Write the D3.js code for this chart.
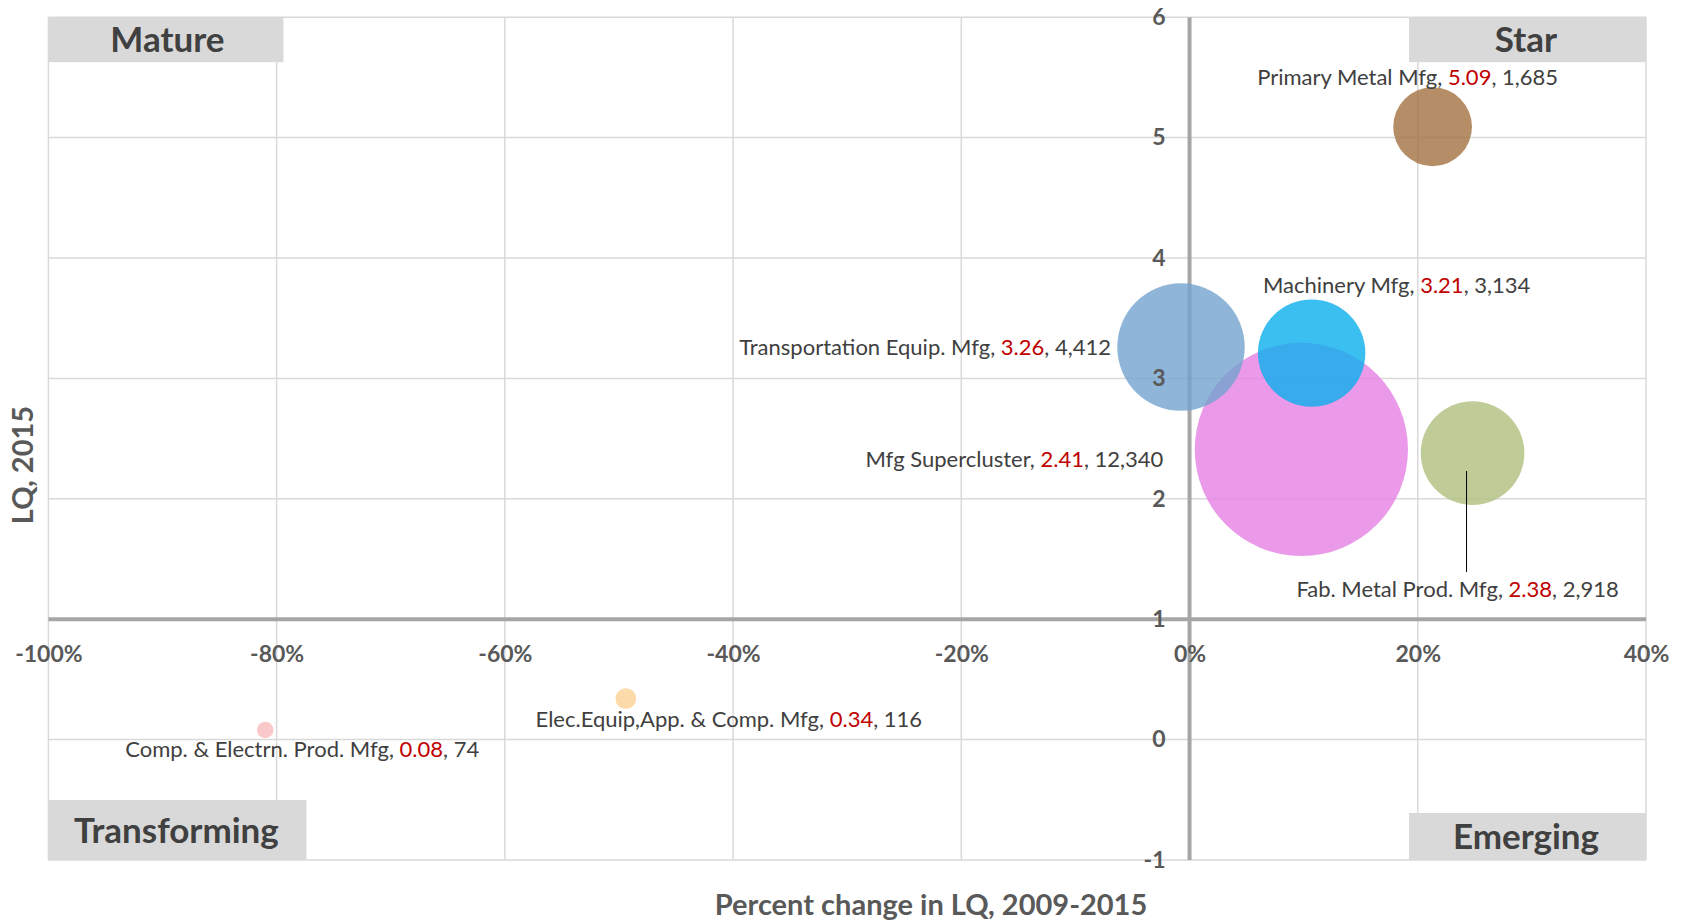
<!DOCTYPE html>
<html>
<head>
<meta charset="utf-8">
<script src="https://cdn.jsdelivr.net/npm/d3@7"></script>
<style>
  html, body { margin: 0; padding: 0; background: #fff; }
  svg { display: block; font-family: Lato, "Open Sans", sans-serif; }
</style>
</head>
<body>
<svg id="chart" width="1688" height="921"></svg>
<script>
// ---- data ----
const industries = ["Mfg Supercluster", "Primary Metal Mfg", "Fab. Metal Prod. Mfg", "Machinery Mfg",
  "Transportation Equip. Mfg", "Elec.Equip,App. & Comp. Mfg", "Comp. & Electrn. Prod. Mfg"];
const pctChange = [0.098, 0.213, 0.248, 0.107, -0.0075, -0.494, -0.81];
const lq2015 = [2.41, 5.09, 2.38, 3.21, 3.26, 0.34, 0.08];
const employment = [12340, 1685, 2918, 3134, 4412, 116, 74];
const colors = ["#e581e4", "#a37241", "#b0bf7e", "#0aafec", "#73a3ce", "#fcd195", "#f9baba"];
const xTicks = [-1, -0.8, -0.6, -0.4, -0.2, 0, 0.2, 0.4];
const yTicks = [-1, 0, 1, 2, 3, 4, 5, 6];
const quadrants = ["Mature", "Star", "Transforming", "Emerging"];

// label layout (offsets from bubble centre)
const labelLayout = [
  {dx: -138, dy: 10, anchor: "end"},
  {dx: -25, dy: -49, anchor: "middle"},
  {dx: -15, dy: 136, anchor: "middle", leader: [18, 119], lx: -6},
  {dx: 85, dy: -68, anchor: "middle"},
  {dx: -70, dy: 0, anchor: "end"},
  {dx: 103, dy: 21, anchor: "middle"},
  {dx: 37, dy: 19, anchor: "middle"}
];

const svg = d3.select("#chart");
const x = d3.scaleLinear().domain([-1, 0.4]).range([48.4, 1646]);
const y = d3.scaleLinear().domain([-1, 6]).range([860, 17.2]);
const r = d3.scaleSqrt().domain([0, 12340]).range([0, 106.6]);

// gridlines
const grid = svg.append("g");
grid.selectAll("line.v").data(xTicks).join("line")
  .attr("x1", d => x(d)).attr("x2", d => x(d))
  .attr("y1", y(6)).attr("y2", y(-1))
  .attr("stroke", "#d9d9d9").attr("stroke-width", 1.5);
grid.selectAll("line.h").data(yTicks).join("line")
  .attr("y1", d => y(d)).attr("y2", d => y(d))
  .attr("x1", x(-1)).attr("x2", x(0.4))
  .attr("stroke", "#d9d9d9").attr("stroke-width", 1.5);

// axis lines
svg.append("line").attr("x1", x(-1)).attr("x2", x(0.4)).attr("y1", y(1)).attr("y2", y(1))
  .attr("stroke", "#a6a6a6").attr("stroke-width", 4);
svg.append("line").attr("x1", x(0)).attr("x2", x(0)).attr("y1", y(6)).attr("y2", y(-1))
  .attr("stroke", "#a6a6a6").attr("stroke-width", 4);

// quadrant boxes
const qBox = [
  {x0: x(-1), x1: x(-1) + 235, y0: y(6), y1: y(6) + 45, tx: x(-1) + 119},
  {x0: x(0.4) - 237, x1: x(0.4), y0: y(6), y1: y(6) + 45, tx: x(0.4) - 120},
  {x0: x(-1), x1: x(-1) + 258, y0: y(-1) - 60, y1: y(-1), tx: x(-1) + 128},
  {x0: x(0.4) - 237, x1: x(0.4), y0: y(-1) - 47, y1: y(-1), tx: x(0.4) - 120}
];
const qg = svg.append("g");
qg.selectAll("rect").data(quadrants).join("rect")
  .attr("x", (d, i) => qBox[i].x0).attr("y", (d, i) => qBox[i].y0)
  .attr("width", (d, i) => qBox[i].x1 - qBox[i].x0).attr("height", (d, i) => qBox[i].y1 - qBox[i].y0)
  .attr("fill", "#d9d9d9");
qg.selectAll("text").data(quadrants).join("text")
  .attr("x", (d, i) => qBox[i].tx).attr("y", (d, i) => (qBox[i].y0 + qBox[i].y1) / 2)
  .attr("dy", "0.36em").attr("text-anchor", "middle")
  .attr("font-size", 35).attr("font-weight", "bold").attr("fill", "#404040")
  .text(d => d);

// bubbles
const idx = d3.range(industries.length);
svg.append("g").selectAll("circle").data(idx).join("circle")
  .attr("cx", i => x(pctChange[i])).attr("cy", i => y(lq2015[i]))
  .attr("r", i => r(employment[i]))
  .attr("fill", i => colors[i]).attr("fill-opacity", 0.8);

// x axis labels
const xAxis = d3.axisBottom(x).tickValues(xTicks).tickSize(0).tickPadding(26)
  .tickFormat(d => Math.round(d * 100) + "%");
const gx = svg.append("g").attr("transform", `translate(0,${y(1)})`).call(xAxis);
gx.select(".domain").remove();
gx.selectAll("text").attr("font-family", "Lato, sans-serif").attr("font-size", 23)
  .attr("font-weight", "bold").attr("fill", "#595959");

// y axis labels (drawn above the bubbles)
const yAxis = d3.axisLeft(y).tickValues(yTicks).tickSize(0).tickPadding(24).tickFormat(d => String(d));
const gy = svg.append("g").attr("transform", `translate(${x(0)},0)`).call(yAxis);
gy.select(".domain").remove();
gy.selectAll("text").attr("font-family", "Lato, sans-serif").attr("font-size", 23)
  .attr("font-weight", "bold").attr("fill", "#595959");

// leader lines
svg.append("g").selectAll("line").data(idx.filter(i => labelLayout[i].leader)).join("line")
  .attr("x1", i => x(pctChange[i]) + labelLayout[i].lx).attr("x2", i => x(pctChange[i]) + labelLayout[i].lx)
  .attr("y1", i => y(lq2015[i]) + labelLayout[i].leader[0])
  .attr("y2", i => y(lq2015[i]) + labelLayout[i].leader[1])
  .attr("stroke", "#000").attr("stroke-width", 1);

// labels
const fmtN = d3.format(",");
const lbl = svg.append("g").selectAll("text").data(idx).join("text")
  .attr("x", i => x(pctChange[i]) + labelLayout[i].dx)
  .attr("y", i => y(lq2015[i]) + labelLayout[i].dy)
  .attr("dy", "0.35em")
  .attr("text-anchor", i => labelLayout[i].anchor)
  .attr("font-size", 22).attr("fill", "#404040");
lbl.append("tspan").text(i => industries[i] + ", ");
lbl.append("tspan").attr("fill", "#c00000").text(i => lq2015[i].toFixed(2));
lbl.append("tspan").text(i => ", " + fmtN(employment[i]));

// axis titles
svg.append("text").attr("x", 931).attr("y", 905).attr("dy", "0.35em").attr("text-anchor", "middle")
  .attr("font-size", 29).attr("font-weight", "bold").attr("fill", "#595959")
  .text("Percent change in LQ, 2009-2015");
svg.append("text").attr("transform", "translate(23,465) rotate(-90)").attr("dy", "0.35em")
  .attr("text-anchor", "middle")
  .attr("font-size", 29).attr("font-weight", "bold").attr("fill", "#595959")
  .text("LQ, 2015");
</script>
</body>
</html>
